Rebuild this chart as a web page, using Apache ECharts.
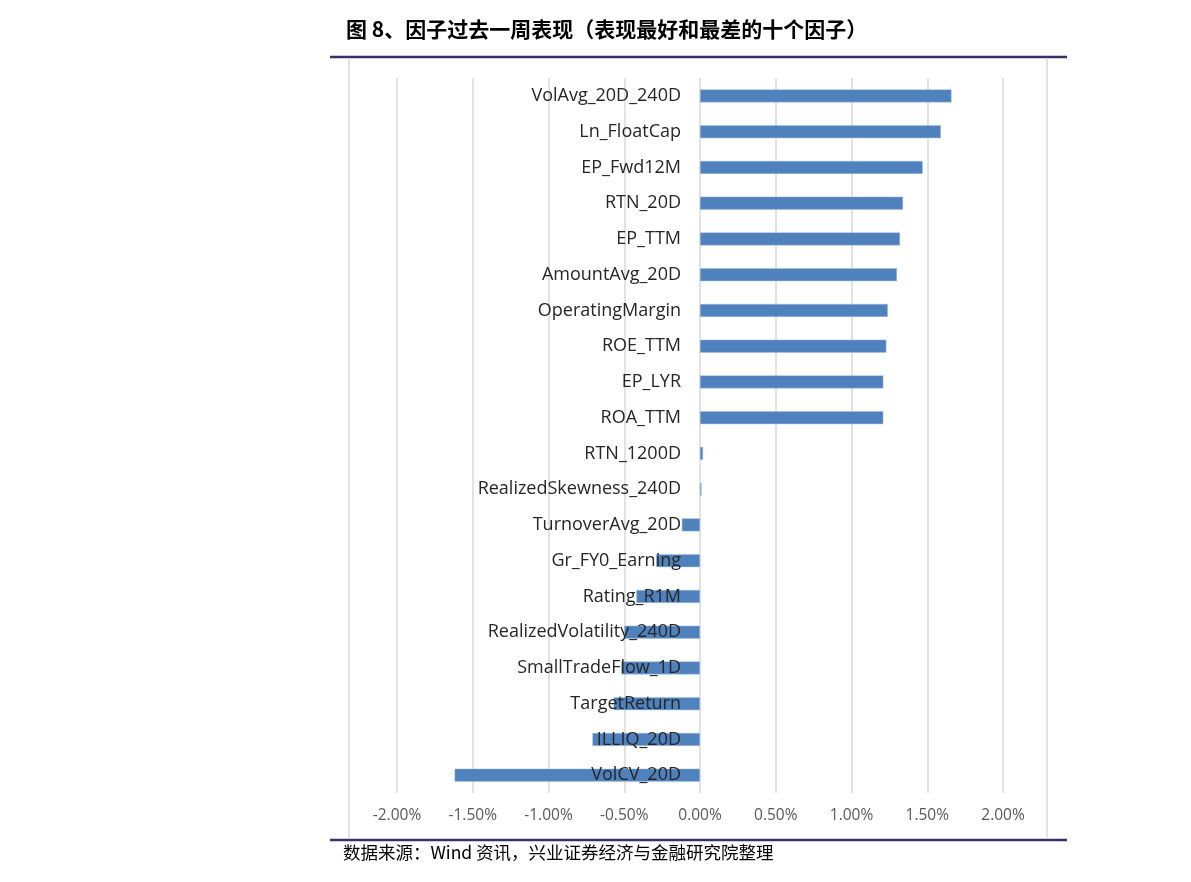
<!DOCTYPE html>
<html>
<head>
<meta charset="utf-8">
<script src="https://cdn.jsdelivr.net/npm/echarts@6/dist/echarts.min.js"></script>
<style>
html,body{margin:0;padding:0;background:#fff;}
#main{width:1191px;height:882px;}
</style>
</head>
<body>
<div id="main"></div>
<script>
const categories = [
  "VolAvg_20D_240D","Ln_FloatCap","EP_Fwd12M","RTN_20D","EP_TTM",
  "AmountAvg_20D","OperatingMargin","ROE_TTM","EP_LYR","ROA_TTM",
  "RTN_1200D","RealizedSkewness_240D","TurnoverAvg_20D","Gr_FY0_Earning","Rating_R1M",
  "RealizedVolatility_240D","SmallTradeFlow_1D","TargetReturn","ILLIQ_20D","VolCV_20D"
];
const values = [
  0.0166, 0.0159, 0.0147, 0.0134, 0.0132,
  0.0130, 0.0124, 0.0123, 0.0121, 0.0121,
  0.0002, 0.0001, -0.0012, -0.0029, -0.0042,
  -0.0050, -0.0052, -0.0057, -0.0071, -0.0162
];
const xTicks = { min: -0.02, max: 0.02, interval: 0.005 };
const titleText = "图 8、因子过去一周表现（表现最好和最差的十个因子）";
const sourceText = "数据来源：Wind 资讯，兴业证券经济与金融研究院整理";

const chart = echarts.init(document.getElementById('main'));
chart.setOption({
  animation: false,
  backgroundColor: '#ffffff',
  title: {
    text: titleText,
    left: 341, top: 14,
    textStyle: { fontFamily: 'Noto Sans CJK SC', fontSize: 21, fontWeight: 'bold', color: '#000' }
  },
  graphic: [
    { type: 'line', shape: { x1: 330, y1: 57, x2: 1067, y2: 57 }, style: { stroke: '#333366', lineWidth: 2.5 } },
    { type: 'line', shape: { x1: 330, y1: 840, x2: 1067, y2: 840 }, style: { stroke: '#333366', lineWidth: 2.5 } },
    { type: 'line', shape: { x1: 349, y1: 58, x2: 349, y2: 839 }, style: { stroke: '#d9d9d9', lineWidth: 1.5 } },
    { type: 'line', shape: { x1: 1047, y1: 58, x2: 1047, y2: 839 }, style: { stroke: '#d9d9d9', lineWidth: 1.5 } },
    { type: 'text', left: 343, top: 844, style: { text: sourceText, font: '17.5px "Noto Sans CJK SC"', fill: '#000' } }
  ],
  grid: { left: 397, right: 188, top: 78, bottom: 89, containLabel: false },
  xAxis: {
    type: 'value',
    min: xTicks.min, max: xTicks.max, interval: xTicks.interval,
    axisLine: { show: false },
    axisTick: { show: false },
    splitLine: { show: true, lineStyle: { color: '#d9d9d9', width: 1.5 } },
    axisLabel: {
      margin: 15,
      color: '#595959',
      fontFamily: 'Open Sans',
      fontSize: 15.5,
      formatter: v => (v * 100).toFixed(2) + '%'
    }
  },
  yAxis: {
    type: 'category',
    data: categories,
    inverse: true,
    z: 5,
    offset: -301,
    axisLine: { show: false, onZero: false },
    axisTick: { show: false },
    splitLine: { show: false },
    axisLabel: {
      margin: 17,
      color: '#262626',
      fontFamily: 'Open Sans',
      fontSize: 18
    }
  },
  series: [{
    type: 'bar',
    data: values,
    barWidth: 13,
    itemStyle: { color: '#4f81bd', borderColor: '#a7c0de', borderWidth: 0.5 }
  }]
});
</script>
</body>
</html>
